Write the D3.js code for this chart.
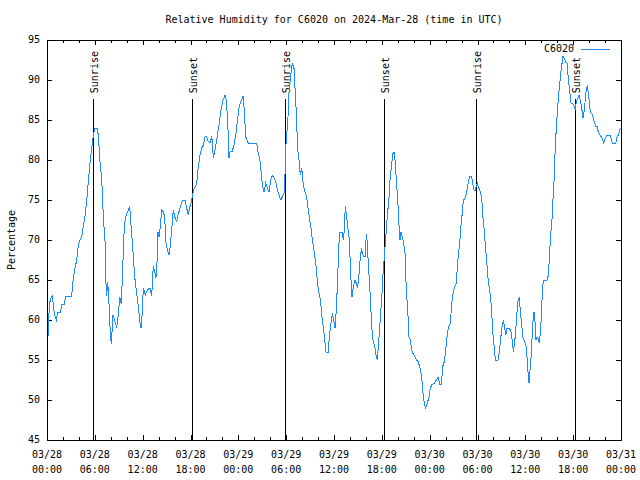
<!DOCTYPE html>
<html>
<head>
<meta charset="utf-8">
<script src="https://cdn.jsdelivr.net/npm/d3@7"></script>
<style>
  html, body { margin: 0; padding: 0; background: #fff; }
  svg text { font-family: "DejaVu Sans Mono", "Liberation Mono", monospace; font-size: 10px; fill: #000; }
</style>
</head>
<body>
<svg id="chart" width="640" height="480"></svg>
<script>
// ---------------- DATA ----------------
const titleText = "Relative Humidity for C6020 on 2024-Mar-28 (time in UTC)";
const seriesName = "C6020";
const yLabel = "Percentage";
const startTime = "2024-03-28T00:00:00Z";
const endTime = "2024-03-31T00:00:00Z";

// hours since 2024-03-28 00:00 UTC
const hoursSinceStart = [
  0.16,0.29,0.50,0.66,0.79,0.92,1.17,1.34,1.72,1.84,2.17,2.35,3.10,3.22,3.42,3.73,3.93,4.14,4.35,4.55,
  4.77,4.98,5.18,5.39,5.61,5.81,6.02,6.31,6.44,6.65,6.86,7.06,7.28,7.36,7.49,7.61,7.78,7.94,8.07,8.28,
  8.53,8.74,8.94,9.12,9.32,9.50,9.70,9.91,10.20,10.37,10.50,10.62,10.83,11.00,11.25,11.45,11.67,11.79,11.95,12.08,
  12.33,12.58,12.92,13.13,13.33,13.55,13.67,13.84,13.92,14.05,14.17,14.39,14.59,14.76,14.93,15.09,15.30,15.43,15.64,15.84,
  16.02,16.27,16.47,16.77,17.02,17.31,17.52,17.72,17.94,18.15,18.28,18.48,18.78,18.98,19.19,19.41,19.61,19.82,20.03,20.23,
  20.45,20.66,20.79,20.86,21.07,21.24,21.58,21.79,22.08,22.33,22.49,22.67,22.83,22.96,23.24,23.46,23.67,23.87,24.08,24.30,
  24.62,24.75,24.93,25.25,25.75,26.31,26.47,26.68,26.81,26.93,27.10,27.22,27.43,27.63,27.85,28.06,28.26,28.48,28.69,28.89,
  29.10,29.35,29.60,29.77,29.85,29.94,30.07,30.23,30.36,30.57,30.77,30.98,31.07,31.23,31.32,31.45,31.61,31.77,31.95,32.08,
  32.28,32.45,32.61,32.78,32.95,33.12,33.24,33.41,33.53,33.71,33.87,34.03,34.21,34.37,34.53,34.71,34.87,35.00,35.29,35.41,
  35.62,35.79,35.96,36.13,36.29,36.47,36.59,36.75,37.00,37.17,37.29,37.42,37.59,37.72,37.88,38.05,38.17,38.26,38.42,38.64,
  38.80,38.97,39.14,39.30,39.48,39.55,39.73,39.93,40.05,40.18,40.30,40.48,40.61,40.73,40.89,41.11,41.31,41.43,41.61,41.73,
  41.86,42.02,42.15,42.31,42.44,42.56,42.65,42.78,42.90,42.99,43.11,43.24,43.40,43.53,43.65,43.82,43.99,44.12,44.19,44.28,
  44.41,44.57,44.74,44.91,45.07,45.25,45.41,45.57,45.75,45.91,46.13,46.32,46.54,46.75,47.00,47.17,47.33,47.50,47.70,47.92,
  48.08,48.26,48.58,48.83,49.05,49.26,49.46,49.64,49.84,50.01,50.18,50.34,50.59,50.77,50.93,51.09,51.34,51.47,51.64,51.81,
  51.93,52.06,52.22,52.43,52.65,52.85,53.06,53.23,53.40,53.57,53.69,53.85,53.98,54.15,54.35,54.53,54.65,54.82,54.98,55.16,
  55.32,55.48,55.66,55.82,55.95,56.11,56.24,56.57,56.74,56.91,57.08,57.24,57.42,57.54,57.70,57.99,58.21,58.37,58.50,58.62,
  58.75,58.92,59.09,59.25,59.37,59.55,59.71,59.92,60.09,60.21,60.34,60.46,60.59,60.71,60.84,60.96,61.09,61.21,61.34,61.47,
  61.63,61.76,61.88,62.01,62.13,62.26,62.72,62.89,63.01,63.14,63.26,63.39,63.51,63.64,63.76,63.89,64.01,64.14,64.26,64.39,
  64.51,64.64,64.73,64.89,65.07,65.23,65.39,65.57,65.73,65.94,66.11,66.27,66.40,66.57,66.74,66.90,67.07,67.24,67.36,67.52,
  67.65,67.78,67.90,68.03,68.15,68.33,68.49,68.65,68.83,68.99,69.16,69.41,69.62,69.83,70.03,70.25,70.66,70.91,71.34,71.50,
  71.67,71.92
];

const humidity = [
  58,62,62.75,63,62,60.7,60,61,61,62,62,63,63,64.5,66,67.5,69.4,70,70.4,71.7,
  73,74.9,77.3,79.6,81.5,83.1,84,84,83,79.8,77.7,73,69.8,65.2,63,64.8,62,58.3,57,60.6,
  59.8,59,60.6,62.9,62,66.5,71.9,73,73.75,74.2,72.3,70.8,67.9,65.4,63.3,61.7,59.6,59,60.9,64,
  63.1,63.75,64,63,66.7,65.9,65.3,67.9,71,70.4,71.25,73.75,73.5,72.9,69.6,68.75,68.1,69,71.25,73.75,
  72.9,72.3,73.3,74.2,75,75,74,73.1,74.2,75,75.8,76.5,77.1,79.2,80.6,81.5,81.9,82.9,82.9,82.3,
  82.1,83,81.5,80.2,81.25,82.2,84.4,86,87.5,88.1,87.5,84.8,80.2,81,81.1,81.9,83.1,84.8,86.5,87.3,
  88,86,82.9,82.1,82.1,82.1,81,80.2,79,77.7,76.5,76,77.1,76.5,76,77.5,78.1,77.7,77.3,76.25,
  75.6,75,75.6,76,78.1,81.5,83.1,85.4,88.5,90.6,92.1,91.5,89.8,86.7,84.6,81.25,80,78.1,79,77.5,
  76.25,75.8,75,73.75,72.5,71.5,70.4,69.2,68.3,67.1,65.4,63.75,63.1,61.7,60,58.75,57.1,56,56,57.9,
  59.6,60.8,60,59,61.25,65.4,69.2,71,71,70,71.25,74.2,72.9,71.7,70.4,67.1,64.2,62.9,64.2,65,
  64.6,64,65.8,67.9,69,68.3,67.9,67.9,70.8,69.6,67.1,64.2,61.7,59.2,57.5,56.7,55.4,55,57.3,59,
  61,63.3,65.8,67.9,69.6,71.25,72.5,74,75.4,77.1,78.3,79.6,80.8,81,80,77.5,75,72.9,70.8,70,
  71,70.4,69.6,68.3,63.75,61.25,57.9,57.5,56.25,55.8,55.5,55,54.8,54.2,52.9,50.8,49.6,49,49.6,50.4,
  51.5,51.9,52.1,52.5,52.9,51.9,51.9,54.2,54.8,56.25,57.9,59,59.6,62.1,63.3,64,64.6,66.7,68.5,70.2,
  71.9,73.1,75,75.2,76,77.3,78,78,77.1,76.2,76.2,76.7,77.1,76.5,76.1,75.2,73.1,71.5,69.4,67.3,
  65.2,64,62.7,60.2,58.1,56.5,55,55,56,57.7,59.2,60,59,58.1,59,59,58.5,57.3,56,56.9,
  58.1,60.6,62.5,62.9,61,59.4,57.7,57.3,56.7,55.4,53.5,52.1,53.75,55.2,57.7,59.8,61,59.8,57.5,57.9,
  57.7,57.1,58.5,60.4,63.5,65,65,65.6,67.7,70,71.7,73.1,76,78.1,81.9,84,86,87.7,89,90.2,
  91.5,92.3,93,92.7,92.2,92.1,90.2,88.5,87.1,87.1,86.7,86.25,87.3,87.7,88.1,87.5,86.5,85.2,86,87.5,
  89,89.2,88.3,87.3,86,85.8,85.4,84.8,84.2,84.2,83.5,83.1,82.7,82.1,82.7,83.1,83.1,82.1,82.1,82.9,
  83.1,84
];

const eventLabels = ["Sunrise", "Sunset", "Sunrise", "Sunset", "Sunrise", "Sunset"];
const eventTimes = [
  "2024-03-28T05:49:00Z", "2024-03-28T18:14:00Z",
  "2024-03-29T05:53:00Z", "2024-03-29T18:19:00Z",
  "2024-03-30T05:51:00Z", "2024-03-30T18:16:00Z"
];
const eventLineTop = 87.6;

const yDomain = [45, 95];
const yTicks = [45, 50, 55, 60, 65, 70, 75, 80, 85, 90, 95];

// ---------------- DRAW ----------------
const svg = d3.select("#chart");
const margin = { left: 47, right: 19, top: 40, bottom: 40 };
const W = 640, H = 480;
const x0 = margin.left, x1 = W - margin.right, y0 = margin.top, y1 = H - margin.bottom;

const parse = d3.utcParse("%Y-%m-%dT%H:%M:%SZ");
const t0 = parse(startTime), t1 = parse(endTime);

const x = d3.scaleUtc().domain([t0, t1]).range([x0, x1]);
const y = d3.scaleLinear().domain(yDomain).range([y1, y0]);

const data = hoursSinceStart.map((h, i) => ({ t: new Date(t0.getTime() + h * 3600e3), v: humidity[i] }));

const majorTicks = d3.utcHour.every(6).range(t0, d3.utcHour.offset(t1, 1));
const minorTicks = d3.utcHour.every(2).range(t0, d3.utcHour.offset(t1, 1)).filter(d => d.getUTCHours() % 6 !== 0);

// Title
svg.append("text").attr("x", 334).attr("y", 20).attr("text-anchor", "middle")
  .attr("dominant-baseline", "middle").text(titleText);

// Y label
svg.append("text").attr("transform", "translate(12,240) rotate(-90)")
  .attr("text-anchor", "middle").attr("dominant-baseline", "middle").text(yLabel);

// Axes via d3 axes (ticks inward)
const gBottom = svg.append("g").attr("transform", `translate(0,${y1})`)
  .call(d3.axisTop(x).tickValues(majorTicks).tickSize(5).tickFormat(""));
const gBottomMinor = svg.append("g").attr("transform", `translate(0,${y1})`)
  .call(d3.axisTop(x).tickValues(minorTicks).tickSize(3).tickFormat(""));
const gTop = svg.append("g").attr("transform", `translate(0,${y0})`)
  .call(d3.axisBottom(x).tickValues(majorTicks).tickSize(5).tickFormat(""));
const gTopMinor = svg.append("g").attr("transform", `translate(0,${y0})`)
  .call(d3.axisBottom(x).tickValues(minorTicks).tickSize(3).tickFormat(""));
const gLeft = svg.append("g").attr("transform", `translate(${x0},0)`)
  .call(d3.axisRight(y).tickValues(yTicks).tickSize(5).tickFormat(""));
const gRight = svg.append("g").attr("transform", `translate(${x1},0)`)
  .call(d3.axisLeft(y).tickValues(yTicks).tickSize(5).tickFormat(""));
[gBottom, gBottomMinor, gTop, gTopMinor, gLeft, gRight].forEach(g => {
  g.select(".domain").remove();
  g.selectAll("line").attr("stroke", "#000").attr("shape-rendering", "crispEdges");
});

// Y tick labels
svg.append("g").selectAll("text").data(yTicks).join("text")
  .attr("x", x0 - 7).attr("y", d => y(d)).attr("text-anchor", "end")
  .attr("dominant-baseline", "middle").text(d => d);

// X tick labels (two lines)
const fmtDate = d3.utcFormat("%m/%d"), fmtTime = d3.utcFormat("%H:%M");
const xl = svg.append("g").selectAll("g").data(majorTicks).join("g");
xl.append("text").attr("x", d => x(d)).attr("y", 455).attr("text-anchor", "middle")
  .attr("dominant-baseline", "middle").text(d => fmtDate(d));
xl.append("text").attr("x", d => x(d)).attr("y", 470).attr("text-anchor", "middle")
  .attr("dominant-baseline", "middle").text(d => fmtTime(d));

// Event lines + labels
const events = eventTimes.map((s, i) => ({ t: parse(s), label: eventLabels[i] }));
const ev = svg.append("g").selectAll("g").data(events).join("g");
ev.append("line")
  .attr("x1", d => Math.round(x(d.t)) + 0.5).attr("x2", d => Math.round(x(d.t)) + 0.5)
  .attr("y1", y(yDomain[0])).attr("y2", y(eventLineTop))
  .attr("stroke", "#000").attr("stroke-width", 1).attr("shape-rendering", "crispEdges");
ev.append("text")
  .attr("transform", d => `translate(${Math.round(x(d.t)) + 1.5},${y(eventLineTop) - 6}) rotate(-90)`)
  .attr("text-anchor", "start").attr("dominant-baseline", "middle")
  .text(d => d.label);

// Data line
const line = d3.line().x(d => x(d.t)).y(d => y(d.v));
svg.append("path").datum(data).attr("d", line)
  .attr("fill", "none").attr("stroke", "#1a8cff").attr("stroke-width", 1)
  .attr("shape-rendering", "crispEdges");

// Legend
svg.append("text").attr("x", 574).attr("y", 49).attr("text-anchor", "end")
  .attr("dominant-baseline", "middle").text(seriesName);
svg.append("line").attr("x1", 581).attr("x2", 610).attr("y1", 49.5).attr("y2", 49.5)
  .attr("stroke", "#1a8cff").attr("stroke-width", 1).attr("shape-rendering", "crispEdges");

// Frame
svg.append("rect").attr("x", x0 + 0.5).attr("y", y0 + 0.5)
  .attr("width", x1 - x0).attr("height", y1 - y0)
  .attr("fill", "none").attr("stroke", "#000").attr("shape-rendering", "crispEdges");
</script>
</body>
</html>
